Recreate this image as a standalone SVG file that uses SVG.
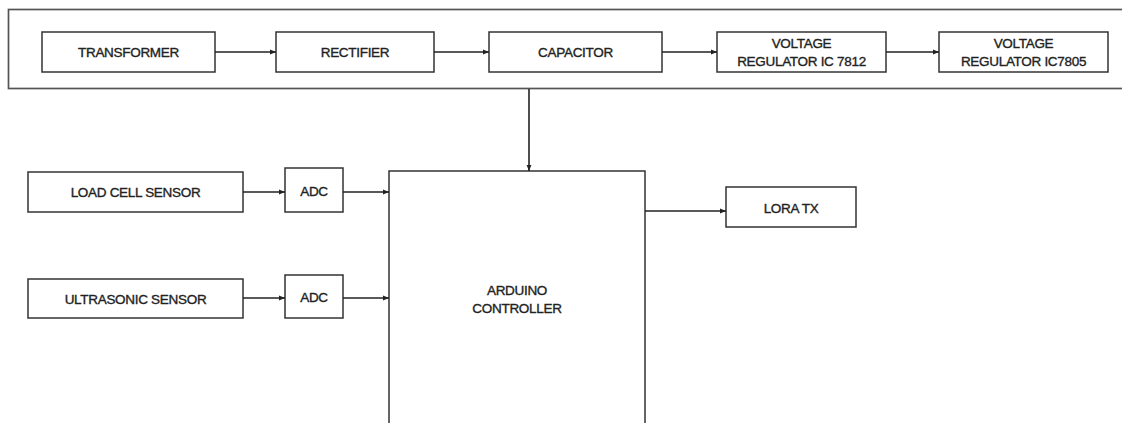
<svg xmlns="http://www.w3.org/2000/svg" width="1122" height="423" viewBox="0 0 1122 423">
<style>
.box{fill:#fff;stroke:#333;stroke-width:1.5}
.outer{fill:#fff;stroke:#555;stroke-width:1.7}
.lbl{font-family:"Liberation Sans",Arial,sans-serif;font-size:13.5px;fill:#222;stroke:#222;stroke-width:0.35;text-anchor:middle;letter-spacing:-0.3px}
.conn{stroke:#222;stroke-width:1.6;fill:none;marker-end:url(#ah)}
</style>
<defs>
<marker id="ah" viewBox="0 0 10 10" refX="10" refY="5" markerWidth="6" markerHeight="6" orient="auto" markerUnits="userSpaceOnUse"><path d="M0,1 L10,5 L0,9 z" fill="#222"/></marker>
</defs>
<rect width="1122" height="423" fill="#fff"/>
<g id="power-supply"><rect class="outer" x="8.5" y="9.5" width="1125" height="79"/></g>
<g id="transformer"><rect class="box" x="42" y="32" width="173" height="40"/><text class="lbl" x="128.5" y="57">TRANSFORMER</text></g>
<g id="rectifier"><rect class="box" x="276" y="32" width="158" height="40"/><text class="lbl" x="355" y="57">RECTIFIER</text></g>
<g id="capacitor"><rect class="box" x="489" y="32" width="173" height="40"/><text class="lbl" x="575.5" y="57">CAPACITOR</text></g>
<g id="vr7812"><rect class="box" x="717" y="32" width="169" height="40"/><text class="lbl" x="801.5" y="48">VOLTAGE</text><text class="lbl" x="801.5" y="66">REGULATOR IC 7812</text></g>
<g id="vr7805"><rect class="box" x="939" y="32" width="169" height="40"/><text class="lbl" x="1023.5" y="48">VOLTAGE</text><text class="lbl" x="1023.5" y="66">REGULATOR IC7805</text></g>
<g id="loadcell"><rect class="box" x="28" y="172" width="215" height="40"/><text class="lbl" x="135.5" y="197">LOAD CELL SENSOR</text></g>
<g id="adc1"><rect class="box" x="285" y="168" width="58" height="44"/><text class="lbl" x="314" y="196">ADC</text></g>
<g id="ultrasonic"><rect class="box" x="28" y="279" width="215" height="39"/><text class="lbl" x="135.5" y="304">ULTRASONIC SENSOR</text></g>
<g id="adc2"><rect class="box" x="285" y="275" width="58" height="43"/><text class="lbl" x="314" y="302">ADC</text></g>
<g id="arduino"><rect class="box" x="389" y="171" width="256" height="260"/><text class="lbl" x="517" y="295">ARDUINO</text><text class="lbl" x="517" y="313">CONTROLLER</text></g>
<g id="lora"><rect class="box" x="726" y="187" width="130" height="40"/><text class="lbl" x="791" y="213">LORA TX</text></g>
<g id="connectors">
<line class="conn" x1="215" y1="52" x2="276" y2="52"/>
<line class="conn" x1="434" y1="52" x2="489" y2="52"/>
<line class="conn" x1="662" y1="52" x2="717" y2="52"/>
<line class="conn" x1="886" y1="52" x2="939" y2="52"/>
<line class="conn" x1="529" y1="89" x2="529" y2="171"/>
<line class="conn" x1="243" y1="192" x2="285" y2="192"/>
<line class="conn" x1="343" y1="192" x2="389" y2="192"/>
<line class="conn" x1="243" y1="298" x2="285" y2="298"/>
<line class="conn" x1="343" y1="298" x2="389" y2="298"/>
<line class="conn" x1="645" y1="211" x2="726" y2="211"/>
</g>
</svg>
